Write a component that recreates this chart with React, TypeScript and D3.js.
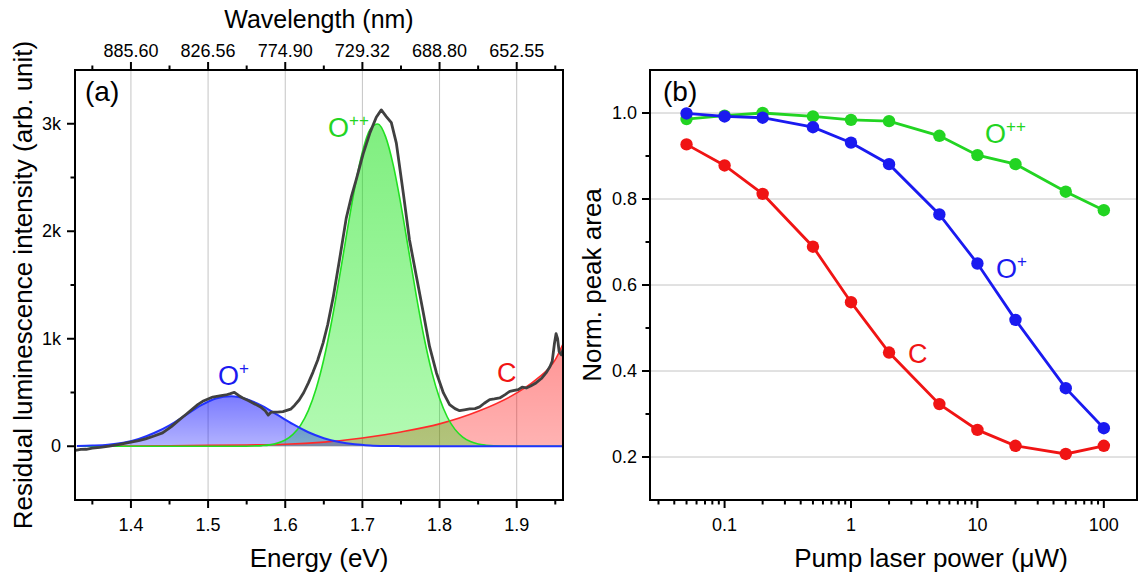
import React from 'react';
import * as d3 from 'd3';

const W = 1140;
const H = 577;
const FONT = "'Liberation Sans', Arial, Helvetica, sans-serif";

// ---------- Panel (a) data ----------
const ENERGY_MAJOR = [1.4, 1.5, 1.6, 1.7, 1.8, 1.9];
const ENERGY_LABELS = ['1.4', '1.5', '1.6', '1.7', '1.8', '1.9'];
const ENERGY_MINOR = [1.35, 1.45, 1.55, 1.65, 1.75, 1.85, 1.95];
const WAVE_LABELS = ['885.60', '826.56', '774.90', '729.32', '688.80', '652.55'];
const INT_MAJOR = [0, 1000, 2000, 3000];
const INT_LABELS = ['0', '1k', '2k', '3k'];
const INT_MINOR = [500, 1500, 2500];

// measured residual spectrum
const SPEC_E = [1.328, 1.335, 1.342, 1.35, 1.36, 1.372, 1.385, 1.4, 1.41, 1.419, 1.43, 1.441, 1.452, 1.463, 1.472, 1.48, 1.487, 1.493, 1.5, 1.506, 1.515, 1.523, 1.529, 1.534, 1.54, 1.545, 1.552, 1.558, 1.568, 1.574, 1.578, 1.582, 1.59, 1.597, 1.607, 1.612, 1.618, 1.624, 1.63, 1.636, 1.642, 1.649, 1.655, 1.662, 1.67, 1.679, 1.686, 1.692, 1.701, 1.71, 1.718, 1.7245, 1.731, 1.7375, 1.744, 1.753, 1.761, 1.77, 1.779, 1.787, 1.796, 1.805, 1.813, 1.82, 1.826, 1.832, 1.839, 1.846, 1.852, 1.858, 1.865, 1.871, 1.878, 1.885, 1.891, 1.897, 1.902, 1.907, 1.9125, 1.918, 1.925, 1.932, 1.938, 1.943, 1.946, 1.949, 1.951, 1.953, 1.955, 1.958, 1.96];
const SPEC_I = [-38, -30, -28, -18, -10, 2, 18, 38, 52, 68, 95, 124, 180, 248, 300, 347, 390, 418, 440, 458, 468, 477, 490, 502, 470, 449, 425, 403, 366, 330, 290, 318, 318, 322, 345, 380, 430, 500, 590, 690, 800, 960, 1130, 1380, 1720, 2120, 2330, 2480, 2720, 2920, 3060, 3129, 3067, 3010, 2820, 2355, 1921, 1580, 1240, 929, 682, 496, 387, 350, 331, 338, 347, 350, 366, 400, 434, 440, 449, 480, 511, 520, 527, 550, 542, 560, 589, 630, 682, 740, 790, 960, 1047, 1000, 880, 850, 900];

// O+ component
const OP_E = [1.33, 1.35, 1.37, 1.39, 1.41, 1.43, 1.45, 1.47, 1.49, 1.51, 1.53, 1.55, 1.57, 1.59, 1.61, 1.63, 1.65, 1.67, 1.69, 1.71, 1.73, 1.75, 1.77, 1.96];
const OP_I = [2, 6, 14, 33, 67, 123, 195, 285, 378, 445, 465, 438, 375, 291, 205, 130, 75, 40, 19, 8, 3, 1, 0, 0];

// O++ component
const OPP_E = [1.33, 1.5, 1.54, 1.56, 1.57, 1.58, 1.59, 1.6, 1.61, 1.62, 1.63, 1.64, 1.65, 1.66, 1.67, 1.68, 1.69, 1.7, 1.71, 1.72, 1.73, 1.74, 1.75, 1.76, 1.77, 1.78, 1.79, 1.8, 1.81, 1.82, 1.83, 1.84, 1.85, 1.86, 1.87, 1.88, 1.9, 1.96];
const OPP_I = [0, 0, 0, 3, 6, 13, 29, 58, 110, 197, 334, 535, 809, 1156, 1562, 1992, 2402, 2737, 2946, 2997, 2880, 2615, 2244, 1820, 1394, 1009, 690, 446, 272, 157, 86, 44, 21, 10, 4, 2, 0, 0];

// C component
const C_E = [1.33, 1.4, 1.45, 1.5, 1.55, 1.6, 1.65, 1.7, 1.75, 1.8, 1.85, 1.9, 1.925, 1.95, 1.96];
const C_I = [2, 3, 5, 8, 12, 18, 38, 77, 133, 208, 325, 496, 620, 805, 950];

// ---------- Panel (b) data ----------
const POWER = [0.05, 0.1, 0.2, 0.5, 1, 2, 5, 10, 20, 50, 100];
const AREA_OPP = [0.986, 0.994, 1.0, 0.992, 0.984, 0.981, 0.947, 0.902, 0.881, 0.817, 0.774];
const AREA_OP = [0.999, 0.992, 0.989, 0.967, 0.931, 0.881, 0.764, 0.65, 0.519, 0.36, 0.267];
const AREA_C = [0.927, 0.878, 0.812, 0.689, 0.56, 0.443, 0.323, 0.263, 0.226, 0.207, 0.226];
const POWER_MAJOR = [0.1, 1, 10, 100];
const POWER_LABELS = ['0.1', '1', '10', '100'];
const POWER_MINOR = [0.03, 0.04, 0.05, 0.06, 0.07, 0.08, 0.09, 0.2, 0.3, 0.4, 0.5, 0.6, 0.7, 0.8, 0.9, 2, 3, 4, 5, 6, 7, 8, 9, 20, 30, 40, 50, 60, 70, 80, 90];
const AREA_MAJOR = [0.2, 0.4, 0.6, 0.8, 1.0];
const AREA_LABELS = ['0.2', '0.4', '0.6', '0.8', '1.0'];
const AREA_MINOR = [0.3, 0.5, 0.7, 0.9];

const COL_BLUE = '#1a1af0';
const COL_GREEN = '#22d422';
const COL_RED = '#f01414';

const A = { l: 75, r: 563, t: 70, b: 500 };
const B = { l: 650, r: 1137, t: 70, b: 500 };

export default function App() {
  const xA = d3.scaleLinear().domain([1.3275, 1.96]).range([A.l, A.r]);
  const yA = d3.scaleLinear().domain([-500, 3500]).range([A.b, A.t]);
  const xB = d3.scaleLog().domain([0.0257, 183]).range([B.l, B.r]);
  const yB = d3.scaleLinear().domain([0.1, 1.1]).range([B.b, B.t]);

  const zip = (e: number[], v: number[]) => e.map((d, i) => [d, v[i]] as [number, number]);
  const lineA = d3.line<[number, number]>().x(d => xA(d[0])).y(d => yA(d[1])).curve(d3.curveMonotoneX);
  const lineRaw = d3.line<[number, number]>().x(d => xA(d[0])).y(d => yA(d[1]));
  const areaA = d3.area<[number, number]>().x(d => xA(d[0])).y0(yA(0)).y1(d => yA(d[1])).curve(d3.curveMonotoneX);
  const lineB = d3.line<[number, number]>().x(d => xB(d[0])).y(d => yB(d[1]));

  const spec = zip(SPEC_E, SPEC_I);
  const op = zip(OP_E, OP_I);
  const opp = zip(OPP_E, OPP_I);
  const cc = zip(C_E, C_I);

  const seriesB = [
    { v: AREA_OPP, c: COL_GREEN },
    { v: AREA_OP, c: COL_BLUE },
    { v: AREA_C, c: COL_RED },
  ];

  const tickFs = 18;
  const titleFs = 26;

  return (
    <svg width={W} height={H} style={{ position: 'absolute', left: 0, top: 0, background: '#fff' }} fontFamily={FONT}>
      <defs>
        <clipPath id="clipA"><rect x={A.l} y={A.t} width={A.r - A.l} height={A.b - A.t} /></clipPath>
        <linearGradient id="gBlue" x1="0" y1="0" x2="0" y2="1">
          <stop offset="0" stopColor="#0000ff" stopOpacity={0.52} />
          <stop offset="1" stopColor="#0000ff" stopOpacity={0.3} />
        </linearGradient>
        <linearGradient id="gGreen" x1="0" y1="0" x2="0" y2="1">
          <stop offset="0" stopColor="#00dd00" stopOpacity={0.5} />
          <stop offset="1" stopColor="#00ee00" stopOpacity={0.3} />
        </linearGradient>
        <linearGradient id="gRed" x1="0" y1="0" x2="0" y2="1">
          <stop offset="0" stopColor="#ff0000" stopOpacity={0.42} />
          <stop offset="1" stopColor="#ff0000" stopOpacity={0.3} />
        </linearGradient>
      </defs>
      <rect x={0} y={0} width={W} height={H} fill="#fff" />

      {/* ================= Panel (a) ================= */}
      {ENERGY_MAJOR.map(e => (
        <line key={'ga' + e} x1={xA(e)} x2={xA(e)} y1={A.t} y2={A.b} stroke="#c4c4c4" strokeWidth={1} />
      ))}
      <g clipPath="url(#clipA)">
        <path d={areaA(cc) || ''} fill="url(#gRed)" />
        <path d={areaA(opp) || ''} fill="url(#gGreen)" />
        <path d={areaA(op) || ''} fill="url(#gBlue)" />
        <path d={lineA(cc) || ''} fill="none" stroke="#ff2a2a" strokeWidth={1.6} />
        <path d={lineA(opp) || ''} fill="none" stroke="#22e022" strokeWidth={1.6} />
        <path d={lineA(op) || ''} fill="none" stroke="#2233ff" strokeWidth={2} />
        <path d={lineRaw(spec) || ''} fill="none" stroke="#404040" strokeWidth={2.8} strokeLinejoin="round" />
      </g>
      <rect x={A.l} y={A.t} width={A.r - A.l} height={A.b - A.t} fill="none" stroke="#000" strokeWidth={2} />

      {/* bottom axis */}
      {ENERGY_MAJOR.map((e, i) => (
        <g key={'ba' + e}>
          <line x1={xA(e)} x2={xA(e)} y1={A.b} y2={A.b + 8} stroke="#000" strokeWidth={2} />
          <text x={xA(e)} y={531} fontSize={tickFs} textAnchor="middle">{ENERGY_LABELS[i]}</text>
        </g>
      ))}
      {ENERGY_MINOR.map(e => (
        <line key={'bam' + e} x1={xA(e)} x2={xA(e)} y1={A.b} y2={A.b + 4.5} stroke="#000" strokeWidth={2} />
      ))}
      <text x={(A.l + A.r) / 2} y={567} fontSize={titleFs} textAnchor="middle">Energy (eV)</text>

      {/* top axis */}
      {ENERGY_MAJOR.map((e, i) => (
        <g key={'ta' + e}>
          <line x1={xA(e)} x2={xA(e)} y1={A.t} y2={A.t - 8} stroke="#000" strokeWidth={2} />
          <text x={xA(e)} y={57} fontSize={tickFs} textAnchor="middle">{WAVE_LABELS[i]}</text>
        </g>
      ))}
      {ENERGY_MINOR.map(e => (
        <line key={'tam' + e} x1={xA(e)} x2={xA(e)} y1={A.t} y2={A.t - 4.5} stroke="#000" strokeWidth={2} />
      ))}
      <text x={(A.l + A.r) / 2} y={28} fontSize={25} textAnchor="middle">Wavelength (nm)</text>

      {/* left axis */}
      {INT_MAJOR.map((v, i) => (
        <g key={'la' + v}>
          <line x1={A.l} x2={A.l - 8} y1={yA(v)} y2={yA(v)} stroke="#000" strokeWidth={2} />
          <text x={61} y={yA(v) + 6} fontSize={tickFs} textAnchor="end">{INT_LABELS[i]}</text>
        </g>
      ))}
      {INT_MINOR.map(v => (
        <line key={'lam' + v} x1={A.l} x2={A.l - 4.5} y1={yA(v)} y2={yA(v)} stroke="#000" strokeWidth={2} />
      ))}
      <text transform={`translate(32,${(A.t + A.b) / 2}) rotate(-90)`} fontSize={titleFs} textAnchor="middle">
        Residual luminescence intensity (arb. unit)
      </text>

      <text x={85} y={101} fontSize={28}>(a)</text>
      <text x={218} y={385} fontSize={27} fill={COL_BLUE}>O<tspan fontSize={17} dy={-11}>+</tspan></text>
      <text x={328} y={137} fontSize={27} fill={COL_GREEN}>O<tspan fontSize={17} dy={-11}>++</tspan></text>
      <text x={497} y={382} fontSize={27} fill={COL_RED}>C</text>

      {/* ================= Panel (b) ================= */}
      {AREA_MAJOR.map(v => (
        <line key={'gb' + v} x1={B.l} x2={B.r} y1={yB(v)} y2={yB(v)} stroke="#c4c4c4" strokeWidth={1} />
      ))}
      {seriesB.map((s, si) => (
        <g key={'sb' + si}>
          <path d={lineB(POWER.map((p, i) => [p, s.v[i]] as [number, number])) || ''} fill="none" stroke={s.c} strokeWidth={2.8} />
          {POWER.map((p, i) => (
            <circle key={i} cx={xB(p)} cy={yB(s.v[i])} r={6.2} fill={s.c} />
          ))}
        </g>
      ))}
      <rect x={B.l} y={B.t} width={B.r - B.l} height={B.b - B.t} fill="none" stroke="#000" strokeWidth={2} />

      {POWER_MAJOR.map((p, i) => (
        <g key={'bb' + p}>
          <line x1={xB(p)} x2={xB(p)} y1={B.b} y2={B.b + 8} stroke="#000" strokeWidth={2} />
          <text x={xB(p)} y={531} fontSize={tickFs} textAnchor="middle">{POWER_LABELS[i]}</text>
        </g>
      ))}
      {POWER_MINOR.map(p => (
        <line key={'bbm' + p} x1={xB(p)} x2={xB(p)} y1={B.b} y2={B.b + 4.5} stroke="#000" strokeWidth={2} />
      ))}
      <text x={931} y={567} fontSize={titleFs} textAnchor="middle">Pump laser power (μW)</text>

      {AREA_MAJOR.map((v, i) => (
        <g key={'lb' + v}>
          <line x1={B.l} x2={B.l - 8} y1={yB(v)} y2={yB(v)} stroke="#000" strokeWidth={2} />
          <text x={637} y={yB(v) + 6} fontSize={tickFs} textAnchor="end">{AREA_LABELS[i]}</text>
        </g>
      ))}
      {AREA_MINOR.map(v => (
        <line key={'lbm' + v} x1={B.l} x2={B.l - 4.5} y1={yB(v)} y2={yB(v)} stroke="#000" strokeWidth={2} />
      ))}
      <text transform={`translate(601,${(B.t + B.b) / 2}) rotate(-90)`} fontSize={titleFs} textAnchor="middle">
        Norm. peak area
      </text>

      <text x={663} y={101} fontSize={28}>(b)</text>
      <text x={985} y={143} fontSize={27} fill={COL_GREEN}>O<tspan fontSize={17} dy={-11}>++</tspan></text>
      <text x={996} y={278} fontSize={27} fill={COL_BLUE}>O<tspan fontSize={17} dy={-11}>+</tspan></text>
      <text x={908} y={363} fontSize={27} fill={COL_RED}>C</text>
    </svg>
  );
}
